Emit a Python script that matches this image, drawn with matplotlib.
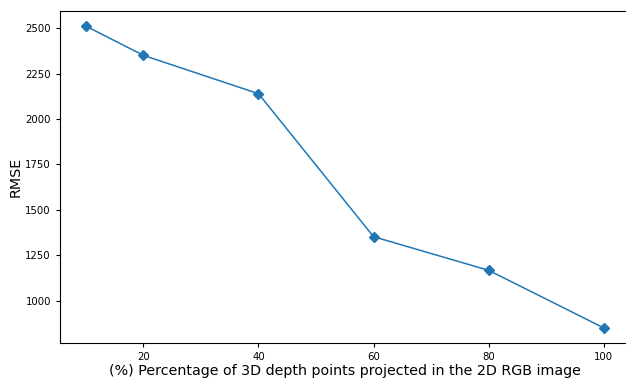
import matplotlib
matplotlib.use("Agg")
import matplotlib.pyplot as plt

# percentage of projected depth points vs RMSE
percent = [10, 20, 40, 60, 80, 100]
rmse = [2511, 2350, 2139, 1352, 1167, 850]

fig = plt.figure(figsize=(6.26, 3.81), dpi=100)
# right spine falls just outside the image, as in the original crop
ax = fig.add_axes([0.0958, 0.0997, 0.910, 0.8714])

ax.plot(percent, rmse, marker='D', color='#1f77b4', linewidth=1.1, markersize=5)

ax.set_xticks([20, 40, 60, 80, 100])
ax.set_yticks([1000, 1250, 1500, 1750, 2000, 2250, 2500])
ax.tick_params(labelsize=7.3, length=3, width=0.8)
ax.set_xlabel("(%) Percentage of 3D depth points projected in the 2D RGB image",
              fontsize=10.3, labelpad=1.5)
ax.set_ylabel("RMSE", fontsize=10.3, labelpad=1.5)

fig.savefig("out.png", dpi=100)
